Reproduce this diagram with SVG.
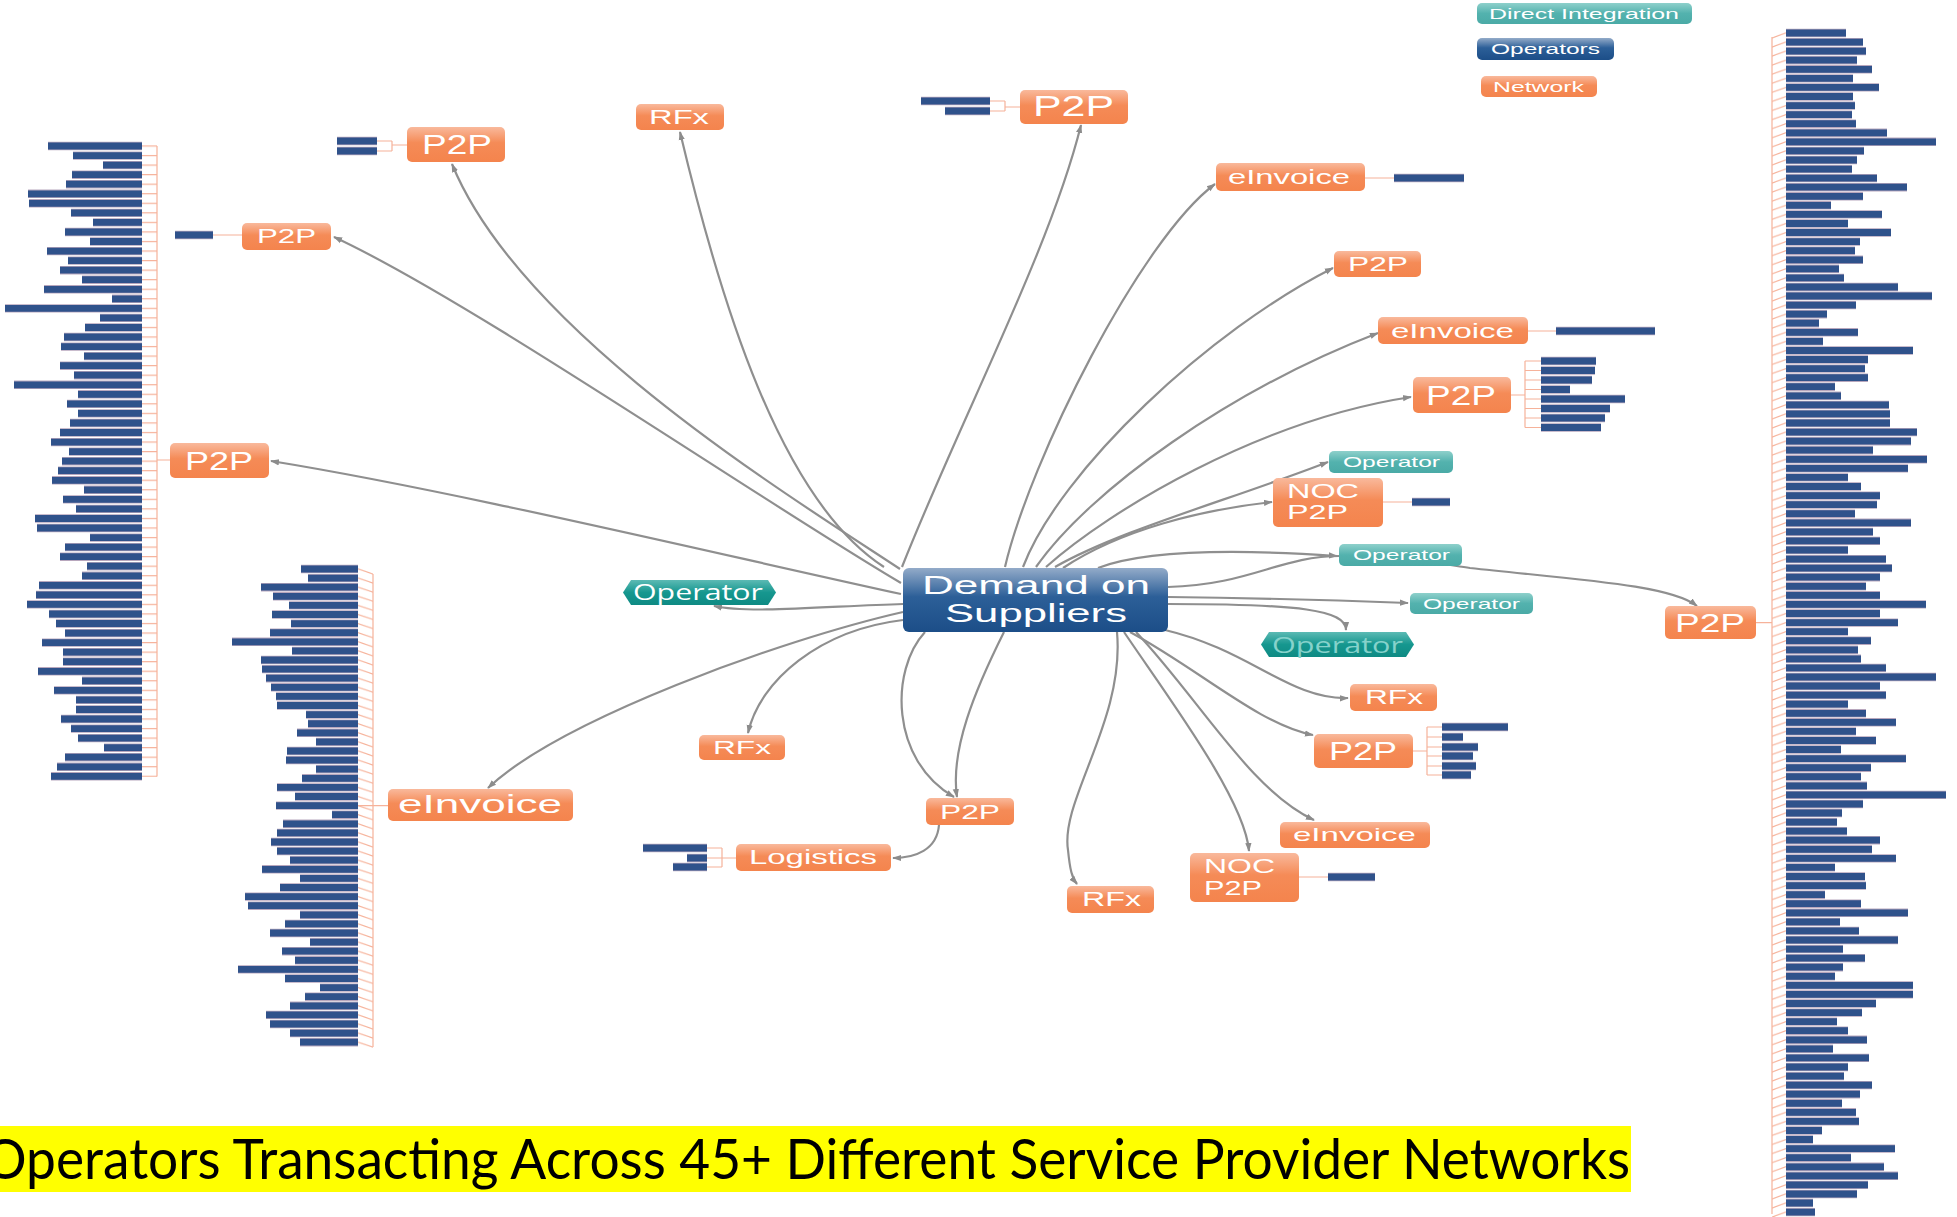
<svg xmlns="http://www.w3.org/2000/svg" width="1957" height="1217" viewBox="0 0 1957 1217">
<defs>
<linearGradient id="og" x1="0" y1="0" x2="0" y2="1"><stop offset="0" stop-color="#f9b99c"/><stop offset="0.45" stop-color="#f58b57"/><stop offset="1" stop-color="#f4844d"/></linearGradient>
<linearGradient id="tg" x1="0" y1="0" x2="0" y2="1"><stop offset="0" stop-color="#8ed0cb"/><stop offset="0.5" stop-color="#53b2ae"/><stop offset="1" stop-color="#4aaaa6"/></linearGradient>
<linearGradient id="hg" x1="0" y1="0" x2="0" y2="1"><stop offset="0" stop-color="#5cbab4"/><stop offset="0.5" stop-color="#16978f"/><stop offset="1" stop-color="#0e8a83"/></linearGradient>
<linearGradient id="bg" x1="0" y1="0" x2="0" y2="1"><stop offset="0" stop-color="#93abc9"/><stop offset="0.45" stop-color="#2c5f98"/><stop offset="1" stop-color="#1c4e88"/></linearGradient>
<marker id="ar" viewBox="0 0 10 10" refX="9" refY="5" markerWidth="9" markerHeight="9" markerUnits="userSpaceOnUse" orient="auto"><path d="M0,1.5L10,5L0,8.5z" fill="#8c8c8c"/></marker>
<pattern id="pL" x="142" y="145.4" width="15" height="9.55" patternUnits="userSpaceOnUse"><rect width="15" height="1.2" fill="#f6b29a"/></pattern>
<pattern id="pE" x="358" y="568.4" width="15" height="9.1" patternUnits="userSpaceOnUse"><path d="M0,0.6L15,5.6" stroke="#f6b29a" stroke-width="1.1" fill="none"/></pattern>
<pattern id="pR" x="1772" y="32.4" width="14" height="9.07" patternUnits="userSpaceOnUse"><path d="M0,5.6L14,0.6" stroke="#f6b29a" stroke-width="1.1" fill="none"/></pattern>
<path id="colL" d="M48,146H142M73,155.6H142M103,165.1H142M72,174.7H142M66,184.2H142M28,193.8H142M29,203.3H142M71,212.9H142M93,222.4H142M65,232H142M90,241.5H142M47,251.1H142M68,260.6H142M60,270.2H142M82,279.7H142M44,289.3H142M112,298.8H142M5,308.4H142M100,317.9H142M85,327.5H142M64,337H142M61,346.6H142M84,356.1H142M60,365.7H142M74,375.2H142M14,384.8H142M78,394.3H142M67,403.9H142M78,413.4H142M70,423H142M60,432.5H142M51,442.1H142M69,451.6H142M62,461.2H142M58,470.7H142M52,480.3H142M84,489.8H142M63,499.4H142M76,508.9H142M35,518.5H142M37,528H142M90,537.6H142M65,547.1H142M60,556.7H142M87,566.2H142M82,575.8H142M39,585.3H142M36,594.9H142M27,604.4H142M49,614H142M56,623.5H142M65,633.1H142M42,642.6H142M63,652.2H142M63,661.7H142M38,671.3H142M82,680.8H142M54,690.4H142M76,699.9H142M76,709.5H142M61,719H142M71,728.6H142M78,738.1H142M104,747.7H142M65,757.2H142M57,766.8H142M51,776.3H142"/>
<path id="colE" d="M301,569H358M308,578.1H358M261,587.2H358M273,596.3H358M289,605.4H358M272,614.5H358M291,623.6H358M270,632.7H358M232,641.8H358M292,650.9H358M261,660H358M262,669.1H358M266,678.2H358M271,687.3H358M276,696.4H358M277,705.5H358M306,714.6H358M308,723.7H358M297,732.8H358M316,741.9H358M287,751H358M286,760.1H358M316,769.2H358M302,778.3H358M277,787.4H358M295,796.5H358M276,805.6H358M332,814.7H358M283,823.8H358M277,832.9H358M271,842H358M277,851.1H358M290,860.2H358M262,869.3H358M300,878.4H358M280,887.5H358M245,896.6H358M248,905.7H358M300,914.8H358M285,923.9H358M270,933H358M310,942.1H358M282,951.2H358M295,960.3H358M238,969.4H358M285,978.5H358M320,987.6H358M305,996.7H358M290,1005.8H358M266,1014.9H358M270,1024H358M290,1033.1H358M300,1042.2H358"/>
<path id="colR" d="M1786,33h60M1786,42.1h77M1786,51.1h80M1786,60.2h71M1786,69.3h86M1786,78.4h67M1786,87.4h93M1786,96.5h67M1786,105.6h69M1786,114.6h66M1786,123.7h70M1786,132.8h101M1786,141.8h150M1786,150.9h78M1786,160h71M1786,169.1h66M1786,178.1h91M1786,187.2h121M1786,196.3h77M1786,205.3h45M1786,214.4h96M1786,223.5h62M1786,232.5h105M1786,241.6h74M1786,250.7h69M1786,259.8h77M1786,268.8h53M1786,277.9h58M1786,287h112M1786,296h146M1786,305.1h70M1786,314.2h41M1786,323.2h33M1786,332.3h72M1786,341.4h37M1786,350.5h127M1786,359.5h82M1786,368.6h79M1786,377.7h82M1786,386.7h49M1786,395.8h55M1786,404.9h103M1786,413.9h104M1786,423h104M1786,432.1h131M1786,441.2h125M1786,450.2h87M1786,459.3h141M1786,468.4h122M1786,477.4h62M1786,486.5h75M1786,495.6h94M1786,504.6h91M1786,513.7h69M1786,522.8h125M1786,531.9h87M1786,540.9h94M1786,550h62M1786,559.1h100M1786,568.1h106M1786,577.2h94M1786,586.3h80M1786,595.3h94M1786,604.4h140M1786,613.5h94M1786,622.6h112M1786,631.6h62M1786,640.7h85M1786,649.8h72M1786,658.8h75M1786,667.9h100M1786,677h150M1786,686h94M1786,695.1h100M1786,704.2h62M1786,713.3h80M1786,722.3h110M1786,731.4h70M1786,740.5h90M1786,749.5h55M1786,758.6h120M1786,767.7h85M1786,776.7h75M1786,785.8h81M1786,794.9h160M1786,804h77M1786,813h56M1786,822.1h51M1786,831.2h61M1786,840.2h94M1786,849.3h86M1786,858.4h110M1786,867.4h49M1786,876.5h79M1786,885.6h80M1786,894.7h39M1786,903.7h75M1786,912.8h122M1786,921.9h54M1786,930.9h73M1786,940h112M1786,949.1h57M1786,958.1h79M1786,967.2h57M1786,976.3h49M1786,985.4h127M1786,994.4h127M1786,1003.5h90M1786,1012.6h76M1786,1021.6h51M1786,1030.7h62M1786,1039.8h81M1786,1048.8h47M1786,1057.9h83M1786,1067h62M1786,1076.1h58M1786,1085.1h86M1786,1094.2h74M1786,1103.3h56M1786,1112.3h70M1786,1121.4h73M1786,1130.5h36M1786,1139.5h27M1786,1148.6h109M1786,1157.7h65M1786,1166.8h98M1786,1175.8h112M1786,1184.9h82M1786,1194h71M1786,1203h27M1786,1212.1h29"/>
</defs>
<style>
.e{fill:none;stroke:#8f8f8f;stroke-width:2.2;marker-end:url(#ar)}
.br{fill:none;stroke:#f6b29a;stroke-width:1.2}
.bo{fill:none;stroke:#b8a7bd;stroke-width:8.4}
.bb{fill:none;stroke:#2f528b;stroke-width:6.8}
.on{fill:url(#og)}
.tn{fill:url(#tg)}
.hx{fill:url(#hg)}
.lb{font-family:"Liberation Sans",Arial,sans-serif;fill:#ffffff}
.ls{font-family:"Open Sans","Liberation Sans",sans-serif;fill:#ffffff}
</style>
<rect width="1957" height="1217" fill="#ffffff"/>

<g id="connectors">
<path class="e" d="M900,569C780,490 520,330 452,164"/>
<path class="e" d="M901,583C760,500 470,300 334,237"/>
<path class="e" d="M901,594C700,550 450,490 271,461"/>
<path class="e" d="M884,567C780,500 720,300 680,132"/>
<path class="e" d="M902,567C960,420 1050,250 1081,125"/>
<path class="e" d="M1005,567C1030,460 1140,240 1215,184"/>
<path class="e" d="M1023,567C1060,470 1210,330 1333,268"/>
<path class="e" d="M1036,567C1090,490 1230,390 1378,333"/>
<path class="e" d="M1046,567C1110,510 1260,420 1411,397"/>
<path class="e" d="M1055,567C1120,530 1230,500 1328,462"/>
<path class="e" d="M1063,568C1120,530 1200,510 1272,502"/>
<path class="e" d="M1098,568C1150,548 1250,550 1337,556"/>
<path class="e" d="M1168,587C1250,585 1280,556 1340,556C1400,556 1430,562 1470,568C1580,580 1670,585 1697,606"/>
<path class="e" d="M1168,597C1260,598 1330,600 1408,603"/>
<path class="e" d="M1168,604C1300,604 1346,610 1346,630"/>
<path class="e" d="M1165,630C1250,650 1290,700 1348,698"/>
<path class="e" d="M1130,632C1200,670 1260,725 1313,735"/>
<path class="e" d="M1136,632C1200,700 1250,790 1314,820"/>
<path class="e" d="M1124,632C1170,700 1245,800 1249,851"/>
<path class="e" d="M1117,632C1125,720 1060,800 1068,850C1070,870 1072,878 1077,884"/>
<path class="e" d="M925,632C890,670 890,760 954,797"/>
<path class="e" d="M1004,632C975,690 950,750 957,797"/>
<path class="e" d="M939,825C937,850 915,858 893,858"/>
<path class="e" d="M903,620C820,630 760,680 748,733"/>
<path class="e" d="M903,612C780,640 560,720 488,788"/>
<path class="e" d="M903,604C830,606 750,614 714,606"/>
<rect x="142" y="145" width="15" height="632" fill="url(#pL)"/>
<path class="br" d="M157,146V776.5M157,460H170"/>
<rect x="358" y="568" width="15" height="480" fill="url(#pE)"/>
<path class="br" d="M373,574V1047M358,805.6H388"/>
<rect x="1772" y="32" width="14" height="1185" fill="url(#pR)"/>
<path class="br" d="M1772,37V1214M1756,622.6H1772"/>
<path class="br" d="M213,235H242M377,141H392M377,151H392M392,141V151M392,145H407M990,101H1005M990,111H1005M1005,101V111M1005,107H1020M1365,178H1394M1528,331H1556M1383,502H1412M1299,877H1328M1511,395H1525M1525,361V427.5M1525,361H1541M1525,370.5H1541M1525,380H1541M1525,389.5H1541M1525,399H1541M1525,408.5H1541M1525,418H1541M1525,427.5H1541M1413,751H1427M1427,727V775M1427,727H1442M1427,737H1442M1427,747H1442M1427,756H1442M1427,766H1442M1427,775H1442M707,848H722M707,858H722M707,867H722M722,848V867M722,858H736"/>
</g>

<g id="legend">
<rect x="1477" y="3" width="215" height="21" rx="5" class="tn"/>
<text class="lb" x="1489" y="19" font-size="15" textLength="190" lengthAdjust="spacingAndGlyphs">Direct Integration</text>
<rect x="1477" y="38" width="137" height="22" rx="5" fill="url(#bg)"/>
<text class="lb" x="1491" y="54" font-size="15" textLength="109" lengthAdjust="spacingAndGlyphs">Operators</text>
<rect x="1481" y="76" width="116" height="21" rx="5" class="on"/>
<text class="lb" x="1493" y="92" font-size="15" textLength="91" lengthAdjust="spacingAndGlyphs">Network</text>
</g>

<g id="list-left"><use href="#colL" class="bo"/><use href="#colL" class="bb"/></g>
<g id="list-einvoice"><use href="#colE" class="bo"/><use href="#colE" class="bb"/></g>
<g id="list-right"><use href="#colR" class="bo"/><use href="#colR" class="bb"/></g>
<g id="small-lists">
<path class="bo" d="M175,235H213M337,141H377M337,151H377M921,101H990M945,111H990M1394,178H1464M1556,331H1655M1412,502H1450M1328,877H1375M1541,361H1596M1541,370.5H1595M1541,380H1592M1541,389.5H1570M1541,399H1625M1541,408.5H1610M1541,418H1605M1541,427.5H1601M1442,727H1508M1442,737H1463M1442,747H1478M1442,756H1473M1442,766H1476M1442,775H1471M643,848H707M687,858H707M673,867H707"/>
<path class="bb" d="M175,235H213M337,141H377M337,151H377M921,101H990M945,111H990M1394,178H1464M1556,331H1655M1412,502H1450M1328,877H1375M1541,361H1596M1541,370.5H1595M1541,380H1592M1541,389.5H1570M1541,399H1625M1541,408.5H1610M1541,418H1605M1541,427.5H1601M1442,727H1508M1442,737H1463M1442,747H1478M1442,756H1473M1442,766H1476M1442,775H1471M643,848H707M687,858H707M673,867H707"/>
</g>

<g id="center">
<rect x="903" y="568" width="265" height="64" rx="6" fill="url(#bg)"/>
<text class="lb" x="922" y="594" font-size="25" textLength="228" lengthAdjust="spacingAndGlyphs">Demand on</text>
<text class="lb" x="945" y="622" font-size="25" textLength="182" lengthAdjust="spacingAndGlyphs">Suppliers</text>
</g>

<g id="p2p-a"><rect x="407" y="127" width="98" height="35" rx="5" class="on"/><text class="lb" x="422" y="154" font-size="27" textLength="70" lengthAdjust="spacingAndGlyphs">P2P</text></g>
<g id="rfx-b"><rect x="636" y="104" width="88" height="26" rx="5" class="on"/><text class="lb" x="649" y="124" font-size="20" textLength="60" lengthAdjust="spacingAndGlyphs">RFx</text></g>
<g id="p2p-c"><rect x="1020" y="90" width="108" height="34" rx="5" class="on"/><text class="lb" x="1033" y="116" font-size="29" textLength="81" lengthAdjust="spacingAndGlyphs">P2P</text></g>
<g id="p2p-d"><rect x="242" y="223" width="89" height="27" rx="5" class="on"/><text class="lb" x="257" y="243" font-size="20" textLength="59" lengthAdjust="spacingAndGlyphs">P2P</text></g>
<g id="p2p-e"><rect x="170" y="443" width="99" height="35" rx="5" class="on"/><text class="lb" x="185" y="470" font-size="26" textLength="68" lengthAdjust="spacingAndGlyphs">P2P</text></g>
<g id="einv-top"><rect x="1216" y="163" width="149" height="28" rx="5" class="on"/><text class="lb" x="1228" y="184" font-size="20" textLength="122" lengthAdjust="spacingAndGlyphs">eInvoice</text></g>
<g id="p2p-f"><rect x="1334" y="251" width="87" height="26" rx="5" class="on"/><text class="lb" x="1348" y="271" font-size="20" textLength="60" lengthAdjust="spacingAndGlyphs">P2P</text></g>
<g id="einv-g"><rect x="1378" y="317" width="150" height="27" rx="5" class="on"/><text class="lb" x="1391" y="338" font-size="20" textLength="123" lengthAdjust="spacingAndGlyphs">eInvoice</text></g>
<g id="p2p-h"><rect x="1413" y="377" width="98" height="36" rx="5" class="on"/><text class="lb" x="1426" y="405" font-size="27" textLength="70" lengthAdjust="spacingAndGlyphs">P2P</text></g>
<g id="operator-1"><rect x="1329" y="451" width="124" height="22" rx="5" class="tn"/><text class="lb" x="1343" y="467" font-size="15" textLength="97" lengthAdjust="spacingAndGlyphs">Operator</text></g>
<g id="noc-1"><rect x="1273" y="478" width="110" height="49" rx="5" class="on"/><text class="lb" x="1287" y="498" font-size="21" textLength="72" lengthAdjust="spacingAndGlyphs">NOC</text><text class="lb" x="1287" y="519" font-size="21" textLength="61" lengthAdjust="spacingAndGlyphs">P2P</text></g>
<g id="operator-2"><rect x="1339" y="544" width="123" height="22" rx="5" class="tn"/><text class="lb" x="1353" y="560" font-size="15" textLength="97" lengthAdjust="spacingAndGlyphs">Operator</text></g>
<g id="operator-3"><rect x="1410" y="593" width="123" height="21" rx="5" class="tn"/><text class="lb" x="1423" y="609" font-size="15" textLength="97" lengthAdjust="spacingAndGlyphs">Operator</text></g>
<g id="operator-hex-right"><polygon class="hx" points="1261,644.5 1269,632 1406,632 1414,644.5 1406,657 1269,657"/><text class="ls" x="1272" y="653" font-size="21" textLength="131" lengthAdjust="spacingAndGlyphs" style="fill:#86d2cb">Operator</text></g>
<g id="operator-hex-left"><polygon class="hx" points="623,592.5 631,580 768,580 776,592.5 768,605 631,605"/><text class="ls" x="633" y="600" font-size="21" textLength="130" lengthAdjust="spacingAndGlyphs">Operator</text></g>
<g id="p2p-right"><rect x="1665" y="606" width="91" height="33" rx="5" class="on"/><text class="lb" x="1675" y="632" font-size="26" textLength="70" lengthAdjust="spacingAndGlyphs">P2P</text></g>
<g id="rfx-right"><rect x="1350" y="684" width="87" height="27" rx="5" class="on"/><text class="lb" x="1365" y="704" font-size="20" textLength="58" lengthAdjust="spacingAndGlyphs">RFx</text></g>
<g id="p2p-rmid"><rect x="1314" y="734" width="99" height="34" rx="5" class="on"/><text class="lb" x="1329" y="760" font-size="25" textLength="68" lengthAdjust="spacingAndGlyphs">P2P</text></g>
<g id="einv-rb"><rect x="1280" y="822" width="150" height="26" rx="5" class="on"/><text class="lb" x="1293" y="841" font-size="19" textLength="123" lengthAdjust="spacingAndGlyphs">eInvoice</text></g>
<g id="noc-2"><rect x="1190" y="853" width="109" height="49" rx="5" class="on"/><text class="lb" x="1204" y="873" font-size="21" textLength="71" lengthAdjust="spacingAndGlyphs">NOC</text><text class="lb" x="1204" y="895" font-size="21" textLength="58" lengthAdjust="spacingAndGlyphs">P2P</text></g>
<g id="rfx-bottom"><rect x="1067" y="886" width="87" height="27" rx="5" class="on"/><text class="lb" x="1082" y="906" font-size="20" textLength="59" lengthAdjust="spacingAndGlyphs">RFx</text></g>
<g id="p2p-bc"><rect x="926" y="798" width="88" height="27" rx="5" class="on"/><text class="lb" x="940" y="819" font-size="20" textLength="60" lengthAdjust="spacingAndGlyphs">P2P</text></g>
<g id="logistics"><rect x="736" y="844" width="155" height="27" rx="5" class="on"/><text class="lb" x="749" y="864" font-size="20" textLength="128" lengthAdjust="spacingAndGlyphs">Logistics</text></g>
<g id="rfx-lc"><rect x="699" y="735" width="86" height="25" rx="5" class="on"/><text class="lb" x="713" y="754" font-size="19" textLength="58" lengthAdjust="spacingAndGlyphs">RFx</text></g>
<g id="einv-big"><rect x="388" y="789" width="185" height="32" rx="5" class="on"/><text class="lb" x="398" y="813" font-size="26" textLength="164" lengthAdjust="spacingAndGlyphs">eInvoice</text></g>

<g id="banner">
<rect x="0" y="1126" width="1631" height="66" fill="#ffff00"/>
<text x="-16" y="1179" font-family="Lato, 'Liberation Sans', sans-serif" font-size="56" fill="#000000" textLength="1646" lengthAdjust="spacingAndGlyphs">Operators Transacting Across 45+ Different Service Provider Networks</text>
</g>
</svg>
